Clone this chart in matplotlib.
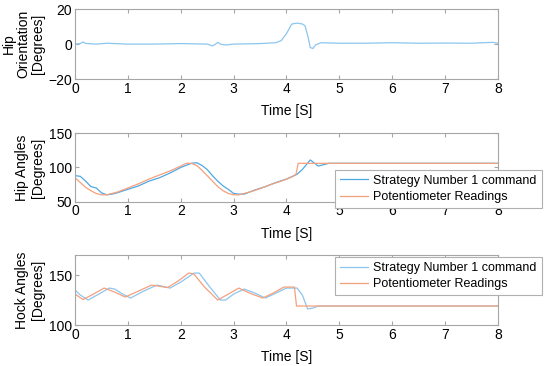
import numpy as np
import matplotlib.pyplot as plt

plt.rcParams['font.family'] = ['Liberation Sans', 'DejaVu Sans']

# hip orientation (single trace)
ho_t = [0, 0.1, 0.15, 0.2, 0.4, 0.6, 1.0, 1.5, 2.0, 2.5, 2.6, 2.65, 2.7, 2.75, 2.85,
        3.0, 3.5, 3.8, 3.9, 4.0, 4.1, 4.2, 4.3, 4.35, 4.4, 4.45, 4.5, 4.55, 4.65,
        5.0, 5.5, 6.0, 6.5, 7.0, 7.5, 7.9, 8.0]
ho_v = [0, 0.3, 1.2, 0.4, 0, 0.5, 0, 0, 0.3, 0, -1.0, -0.2, 1.0, 0, -0.5,
        0, 0.3, 0.8, 2, 6, 11.5, 12, 11.5, 10.5, 5, -2, -2.5, -0.5, 0.8,
        0.5, 0.5, 0.8, 0.5, 0.6, 0.5, 1.0, 0.5]

# hip angles
hc_t = [0, 0.1, 0.2, 0.3, 0.4, 0.5, 0.6, 0.7, 0.8, 1.0, 1.2, 1.4, 1.6, 1.8, 2.0,
        2.2, 2.3, 2.4, 2.5, 2.6, 2.7, 2.8, 2.9, 3.0, 3.1, 3.2, 3.4, 3.6, 3.8, 4.0,
        4.2, 4.3, 4.45, 4.6, 4.8, 8.0]
hc_v = [88, 87, 80, 72, 70, 63, 60, 61, 63, 68, 73, 80, 85, 92, 100,
        106, 107, 103, 97, 88, 80, 73, 68, 62, 61, 61, 67, 72, 78, 83,
        90, 97, 111, 102, 106, 106]
hp_t = [0, 0.1, 0.2, 0.3, 0.4, 0.5, 0.6, 0.8, 1.0, 1.2, 1.4, 1.6, 1.8, 2.0, 2.1,
        2.2, 2.3, 2.4, 2.5, 2.6, 2.7, 2.8, 2.9, 3.0, 3.1, 3.3, 3.5, 3.7, 3.9, 4.1,
        4.18, 4.22, 8.0]
hp_v = [85, 78, 71, 66, 62, 60, 60, 64, 70, 76, 83, 89, 95, 102, 106,
        106, 103, 96, 88, 80, 72, 66, 62, 60, 60, 64, 69, 75, 80, 86,
        90, 106, 106]

# hock angles
kc_t = [0, 0.1, 0.25, 0.45, 0.65, 0.75, 0.9, 1.05, 1.3, 1.55, 1.8, 2.0, 2.25, 2.35,
        2.55, 2.75, 2.85, 3.0, 3.2, 3.4, 3.6, 3.8, 4.0, 4.2, 4.3, 4.4, 4.5, 4.6, 8.0]
kc_v = [135, 130, 125, 131, 137, 136, 131, 127, 134, 140, 137, 143, 152, 152,
        138, 125, 125, 131, 136, 132, 127, 132, 137, 137, 130, 116, 117, 119, 119]
kp_t = [0, 0.15, 0.35, 0.55, 0.75, 0.95, 1.2, 1.45, 1.75, 1.95, 2.15, 2.25, 2.45,
        2.7, 2.9, 3.1, 3.3, 3.55, 3.75, 3.95, 4.15, 4.19, 8.0]
kp_v = [131, 125.5, 131, 137, 133, 128, 134, 140, 137.5, 144, 152, 151, 138,
        125, 131, 137, 132, 127, 132, 138, 138, 119, 119]

blue = '#4fa8e6'
blue_light = '#8cc6ef'
orange = '#f5a07c'
spine = '#a6a6a6'
fs = 10

fig = plt.figure(figsize=(5.5, 3.66), dpi=100)
ax1 = fig.add_axes([0.1364, 0.784, 0.769, 0.191])
ax2 = fig.add_axes([0.1364, 0.449, 0.769, 0.187])
ax3 = fig.add_axes([0.1364, 0.112, 0.769, 0.191])

ax1.plot(ho_t, ho_v, color=blue_light, lw=0.9)
ax1.set_ylim(-20, 20)
ax1.set_yticks([-20, 0, 20])
ax1.set_ylabel('Hip\nOrientation\n[Degrees]', fontsize=fs, linespacing=1.05)

ax2.plot(hc_t, hc_v, color=blue, lw=0.9, label='Strategy Number 1 command')
ax2.plot(hp_t, hp_v, color=orange, lw=0.9, label='Potentiometer Readings')
ax2.set_ylim(50, 150)
ax2.set_yticks([50, 100, 150])
ax2.set_ylabel('Hip Angles\n[Degrees]', fontsize=fs, linespacing=1.15)

ax3.plot(kc_t, kc_v, color=blue_light, lw=0.9, label='Strategy Number 1 command')
ax3.plot(kp_t, kp_v, color=orange, lw=0.9, label='Potentiometer Readings')
ax3.set_ylim(100, 170)
ax3.set_yticks([100, 150])
ax3.set_ylabel('Hock Angles\n[Degrees]', fontsize=fs, linespacing=1.15)

for ax in (ax1, ax2, ax3):
    ax.set_xlim(0, 8)
    ax.set_xticks(range(0, 9))
    ax.set_xlabel('Time [S]', fontsize=fs, labelpad=6)
    ax.tick_params(direction='in', length=3, color=spine, labelsize=fs,
                   top=True, right=True, pad=2)
    for s in ax.spines.values():
        s.set_color(spine)
        s.set_linewidth(0.8)
    ax.yaxis.set_label_coords(-0.071, 0.5)

for ax, top in ((ax2, 0.536), (ax3, 0.298)):
    leg = ax.legend(loc='upper right', bbox_to_anchor=(0.985, top),
                    bbox_transform=fig.transFigure, fontsize=9, fancybox=False,
                    borderaxespad=0, framealpha=1, handlelength=2.2,
                    labelspacing=0.35, borderpad=0.4, handletextpad=0.45)
    leg.get_frame().set_edgecolor('#b0b0b0')
    leg.get_frame().set_linewidth(0.8)

fig.savefig('out.png', dpi=100)
